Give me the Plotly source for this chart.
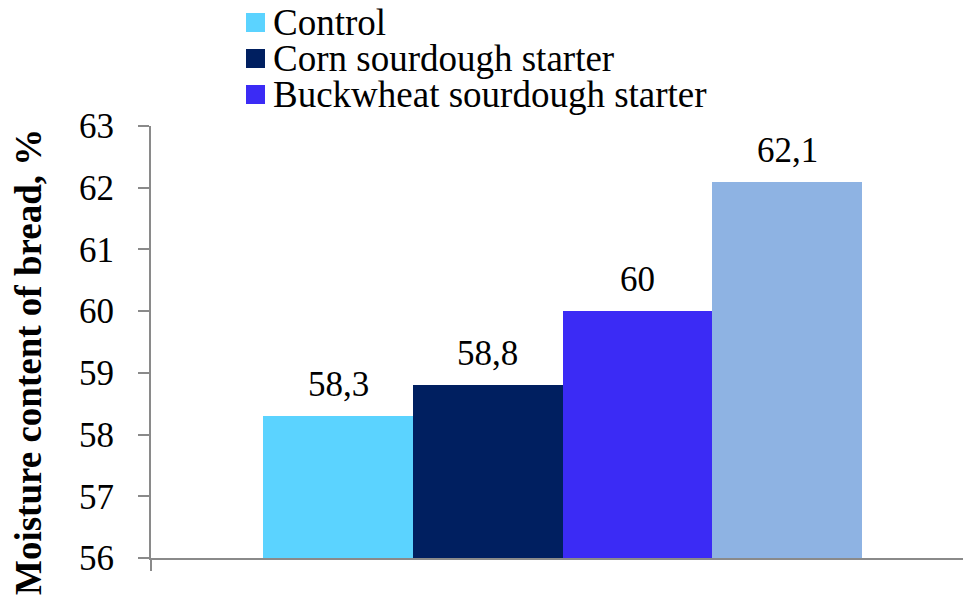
import plotly.graph_objects as go

# Moisture content of bread (%), one bar per sample
values = [58.3, 58.8, 60.0, 62.1]
bar_colors = ["#5BD3FF", "#001F60", "#3B2BF5", "#8EB3E3"]
legend_names = ["Control", "Corn sourdough starter", "Buckwheat sourdough starter"]
y_ticks = [56, 57, 58, 59, 60, 61, 62, 63]
y_title = "Moisture content of bread, %"

FONT = "Liberation Serif"
AXIS_GREY = "#8A8A8A"

W, H = 963, 601
M_L, M_R, M_T, M_B = 151, 0, 126, 43
PW, PH = W - M_L - M_R, H - M_T - M_B


def px_x(px):
    """Pixel column -> paper x."""
    return (px - M_L) / PW


def px_y(py):
    """Pixel row -> paper y."""
    return (H - M_B - py) / PH


positions = list(range(len(values)))

fig = go.Figure(
    go.Bar(
        x=positions,
        y=values,
        width=1,
        marker=dict(color=bar_colors, line=dict(width=0)),
        showlegend=False,
        hoverinfo="skip",
    )
)

# value labels above the bars
for xi, v in zip(positions, values):
    fig.add_annotation(
        x=xi, y=v, xref="x", yref="y",
        text=f"{v:g}".replace(".", ","),
        showarrow=False, yanchor="bottom", xanchor="center", yshift=10,
        font=dict(family=FONT, size=35, color="#000000"),
    )

# legend: coloured squares with names
row_h = 36
for i, name in enumerate(legend_names):
    cy = 22.5 + i * row_h
    fig.add_shape(
        type="rect", xref="paper", yref="paper",
        x0=px_x(246), x1=px_x(265), y0=px_y(cy + 9.5), y1=px_y(cy - 9.5),
        fillcolor=bar_colors[i], line=dict(width=0),
    )
    fig.add_annotation(
        x=px_x(271), y=px_y(cy), xref="paper", yref="paper",
        text=name, showarrow=False, xanchor="left", yanchor="middle",
        font=dict(family=FONT, size=37, color="#000000"),
    )

# y-axis title
fig.add_annotation(
    x=px_x(28), y=px_y(362), xref="paper", yref="paper",
    text=f"<b>{y_title}</b>", textangle=-90, showarrow=False,
    xanchor="center", yanchor="middle",
    font=dict(family=FONT, size=37, color="#000000"),
)

fig.update_layout(
    width=W, height=H,
    margin=dict(l=M_L, r=M_R, t=M_T, b=M_B, pad=0),
    paper_bgcolor="white", plot_bgcolor="white",
    bargap=0,
    xaxis=dict(
        range=[-1.2501, 4.174],
        showgrid=False, zeroline=False,
        showline=True, linecolor=AXIS_GREY, linewidth=2,
        tickmode="array", tickvals=[-1.25, 4.25],
        ticks="outside", ticklen=11, tickwidth=2, tickcolor=AXIS_GREY,
        showticklabels=False,
    ),
    yaxis=dict(
        range=[56, 63],
        tickmode="array", tickvals=y_ticks, ticktext=[str(t) for t in y_ticks],
        showgrid=False, zeroline=False,
        showline=True, linecolor=AXIS_GREY, linewidth=2,
        ticks="outside", ticklen=11, tickwidth=2, tickcolor=AXIS_GREY,
        ticklabelstandoff=17,
        tickfont=dict(family=FONT, size=35, color="#000000"),
    ),
)

fig.write_html("out.html")
